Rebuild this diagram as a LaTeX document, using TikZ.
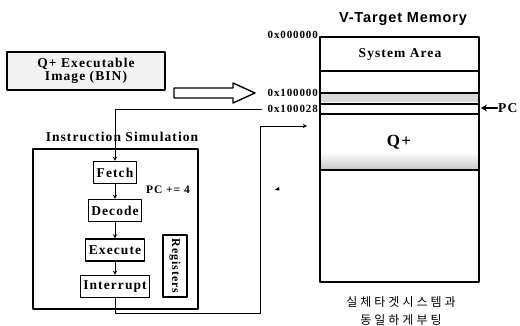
\documentclass[tikz,border=0pt]{standalone}
\usepackage{fontspec}
\setmainfont{Liberation Serif}[LetterSpace=8]
\newfontfamily\titlefont{Liberation Sans}[LetterSpace=6]
\newfontfamily\kofont{Noto Sans CJK KR}[LetterSpace=25]
\usetikzlibrary{arrows.meta}

\begin{document}
\begin{tikzpicture}[x=1pt, y=-1pt, >=stealth, line join=round, line cap=round,
  txt/.style={font=\fontsize{13.5}{13}\selectfont\bfseries},
  stage/.style={draw, line width=1.2pt, txt, inner xsep=3pt, minimum height=22pt},
  addr/.style={font=\fontsize{11}{12}\selectfont\bfseries, anchor=east, inner sep=1pt},
  flow/.style={->, line width=0.9pt}]
\useasboundingbox (0,0) rectangle (520,326);

% executable image and load arrow
\node[draw, line width=1.6pt, fill=gray!10, txt, align=center, minimum width=158pt, minimum height=38pt] (bin) at (86,71) {Q+ Executable\\Image (BIN)};
\draw[line width=1.4pt, fill=white] (174,88) -- (233,88) -- (233,83) -- (255,93) -- (233,103) -- (233,98) -- (174,98) -- cycle;

% target memory
\node[font=\titlefont\fontsize{14.5}{16}\selectfont\bfseries] (memtitle) at (403,19) {V-Target Memory};
\fill[gray!30] (320,93) rectangle (479,102);
\shade[top color=white, bottom color=gray!45] (320,152) rectangle (479,170);
\draw[line width=1.4pt] (320,37) rectangle (479,282);
\foreach \y in {71,93,104,114,170} \draw[line width=1.2pt] (320,\y) -- (479,\y);
\node[txt] (sys) at (400,54) {System Area};
\node[txt, font=\fontsize{17}{18}\selectfont\bfseries] (qplus) at (399,142) {Q+};
\node[addr] (a0) at (319,35) {0x000000};
\node[addr] (a1) at (319,93) {0x100000};
\node[addr] (a2) at (319,109) {0x100028};
\node[txt, anchor=west, inner sep=1pt] (pc) at (497,108) {PC};
\coordinate (pcrow) at (481,108);
\draw[line width=2.5pt, -{Stealth[length=6pt,width=7pt]}] (pc.west) -- (pcrow);
\node[font=\kofont\fontsize{12}{18}\selectfont, align=center] (note) at (401,311) {실체타겟시스템과\\동일하게부팅};

% instruction simulation
\node[txt] (simtitle) at (122,137) {Instruction Simulation};
\node[draw, line width=1.8pt, minimum width=165pt, minimum height=160pt] (sim) at (115.5,229) {};
\node[stage] (fetch) at (115,172.5) {Fetch};
\node[stage] (decode) at (115,210.5) {Decode};
\node[stage] (execute) at (115,250) {Execute};
\node[stage] (interrupt) at (115,286.5) {Interrupt};
\node[draw, line width=1.2pt, rotate=-90, minimum width=62pt, minimum height=24pt, font=\fontsize{12}{13}\selectfont\bfseries] (regs) at (175,266) {Registers};
\node[font=\fontsize{11.5}{13}\selectfont\bfseries] (pcinc) at (168,190) {PC += 4};
\draw[flow] (fetch) -- (decode);
\draw[flow] (decode) -- (execute);
\draw[flow] (execute) -- (interrupt);

% fetch loop and return path
\coordinate (ret) at (260,313);
\coordinate (qtarget) at (307,126);
\draw[flow] ([xshift=-5pt]a2.west) -| (fetch.north);
\draw[flow] (interrupt.south) |- (ret) |- (qtarget);
\fill (274.5,190) -- (279,187) -- (279.5,190.5) -- cycle;
\end{tikzpicture}
\end{document}
